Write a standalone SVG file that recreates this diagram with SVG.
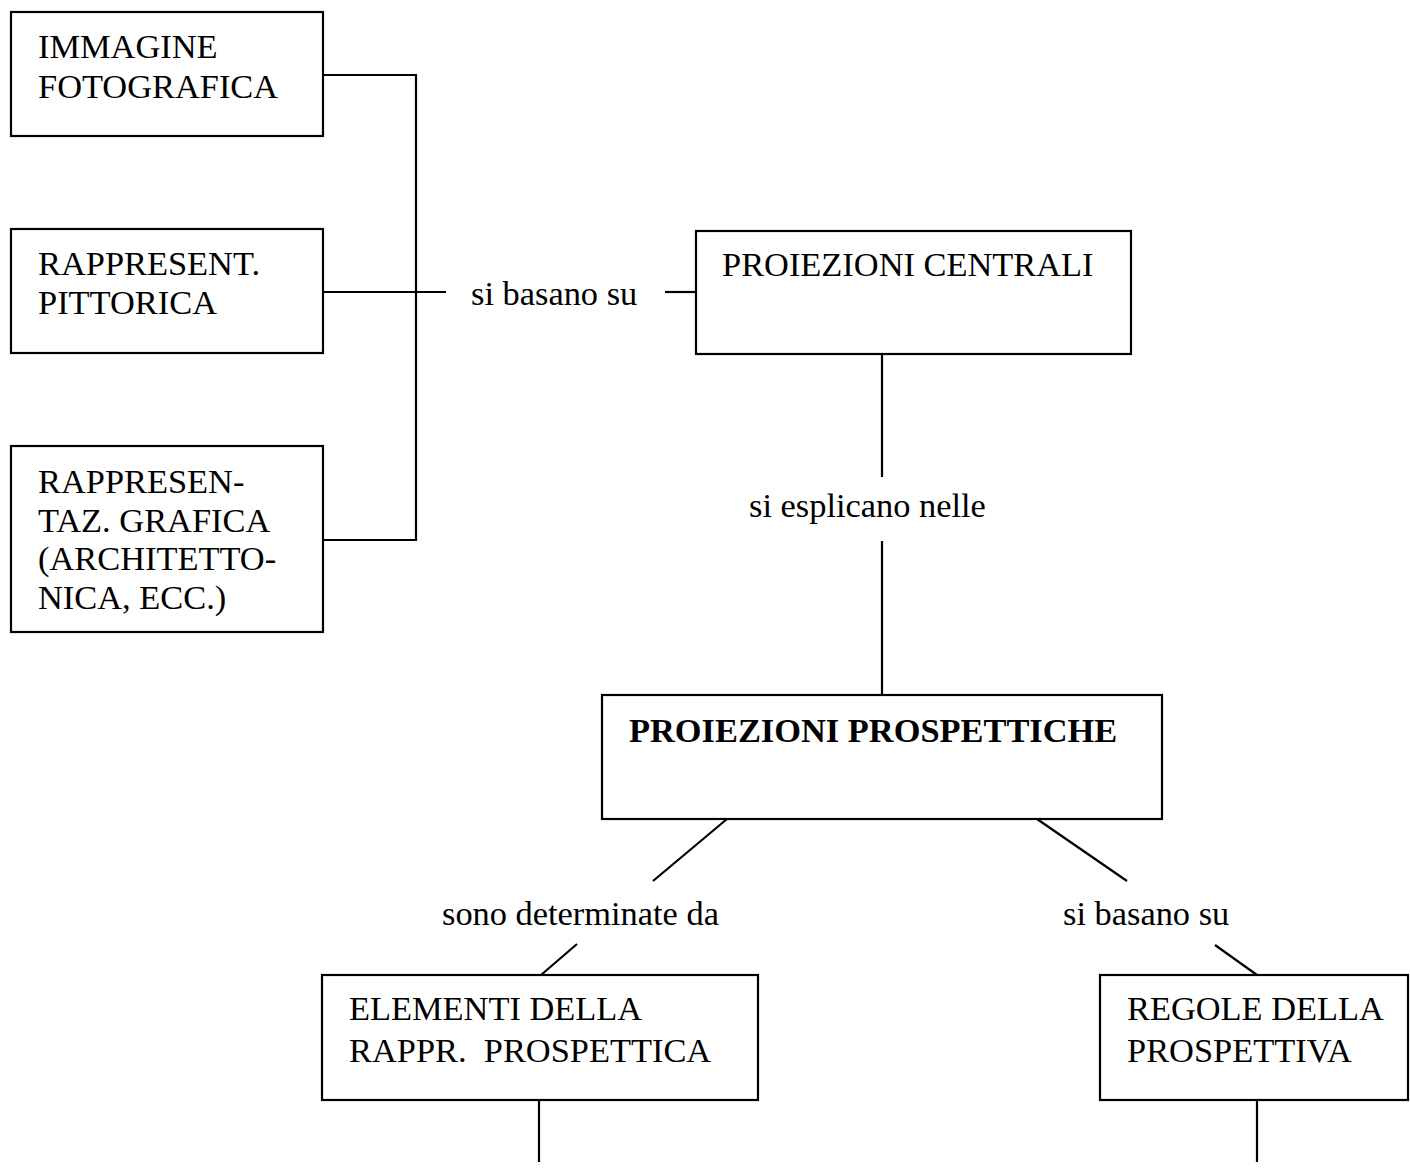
<svg xmlns="http://www.w3.org/2000/svg" width="1410" height="1168" viewBox="0 0 1410 1168">
<style>
.box{fill:#fff;stroke:#000;stroke-width:2.2}
.t{font-family:"Liberation Serif","Times New Roman",serif;font-size:34.4px;fill:#000}
.b{font-weight:bold}
.c{fill:none;stroke:#000;stroke-width:2.2}
</style>
<rect width="1410" height="1168" fill="#fff"/>
<g id="connectors">
<polyline class="c" points="323,75 416,75 416,540 323,540"/>
<line class="c" x1="323" y1="292" x2="446" y2="292"/>
<line class="c" x1="665" y1="292" x2="696" y2="292"/>
<line class="c" x1="882" y1="354" x2="882" y2="477"/>
<line class="c" x1="882" y1="541" x2="882" y2="695"/>
<line class="c" x1="727" y1="819" x2="653" y2="881"/>
<line class="c" x1="577" y1="944" x2="541" y2="975"/>
<line class="c" x1="1037" y1="819" x2="1127" y2="881"/>
<line class="c" x1="1215" y1="945" x2="1257" y2="975"/>
<line class="c" x1="539" y1="1100" x2="539" y2="1162"/>
<line class="c" x1="1257" y1="1100" x2="1257" y2="1162"/>
<text class="t" x="471" y="305">si basano su</text>
<text class="t" x="749" y="517">si esplicano nelle</text>
<text class="t" x="442" y="925">sono determinate da</text>
<text class="t" x="1063" y="925">si basano su</text>
</g>
<g id="n1">
<rect class="box" x="11" y="12" width="312" height="124"/>
<text class="t" x="38" y="58">IMMAGINE</text>
<text class="t" x="38" y="98">FOTOGRAFICA</text>
</g>
<g id="n2">
<rect class="box" x="11" y="229" width="312" height="124"/>
<text class="t" x="38" y="275">RAPPRESENT.</text>
<text class="t" x="38" y="314">PITTORICA</text>
</g>
<g id="n3">
<rect class="box" x="11" y="446" width="312" height="186"/>
<text class="t" x="38" y="493">RAPPRESEN-</text>
<text class="t" x="38" y="532">TAZ. GRAFICA</text>
<text class="t" x="38" y="570">(ARCHITETTO-</text>
<text class="t" x="38" y="609">NICA, ECC.)</text>
</g>
<g id="n4">
<rect class="box" x="696" y="231" width="435" height="123"/>
<text class="t" x="722" y="276">PROIEZIONI CENTRALI</text>
</g>
<g id="n5">
<rect class="box" x="602" y="695" width="560" height="124"/>
<text class="t b" x="629" y="742">PROIEZIONI PROSPETTICHE</text>
</g>
<g id="n6">
<rect class="box" x="322" y="975" width="436" height="125"/>
<text class="t" x="349" y="1020">ELEMENTI DELLA</text>
<text class="t" x="349" y="1062" xml:space="preserve">RAPPR.  PROSPETTICA</text>
</g>
<g id="n7">
<rect class="box" x="1100" y="975" width="308" height="125"/>
<text class="t" x="1127" y="1020">REGOLE DELLA</text>
<text class="t" x="1127" y="1062">PROSPETTIVA</text>
</g>
</svg>
